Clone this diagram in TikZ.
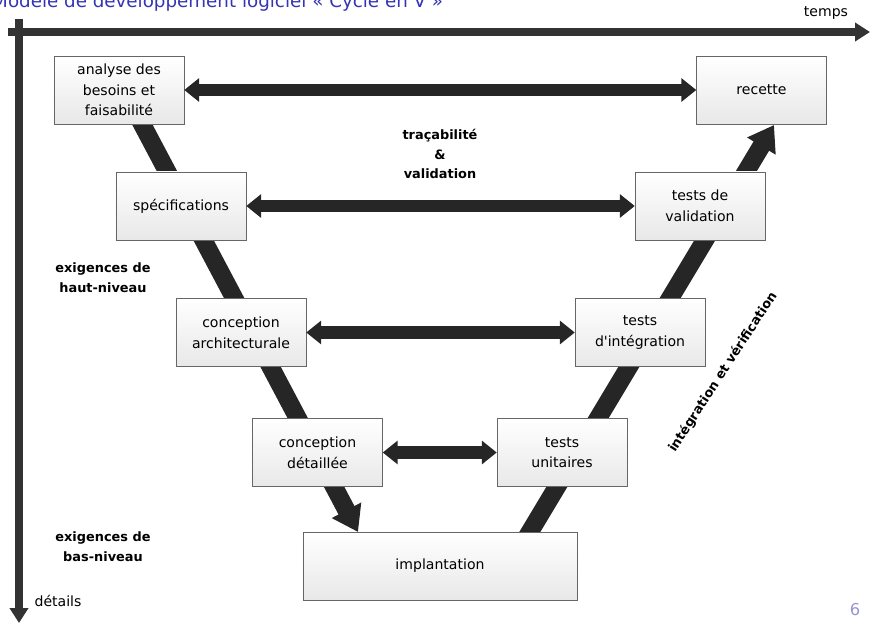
\documentclass[tikz,border=0pt]{standalone}
\usepackage{fontspec}
\setmainfont{DejaVu Sans}
\newfontfamily\boxfont{DejaVu Sans}
\usetikzlibrary{arrows.meta}

\definecolor{titleblue}{RGB}{52,52,180}
\definecolor{pageblue}{RGB}{150,150,210}

\begin{document}
\begin{tikzpicture}[x=0.03cm, y=-0.03cm,
  box/.style={rectangle, draw=black!60, top color=white, bottom color=black!9, minimum width=3.9cm, minimum height=2.04cm, align=center, inner sep=2pt, font=\boxfont\fontsize{12}{17.6}\selectfont},
  link/.style={draw=black!85, line width=10.4pt, {Triangle[length=12.8pt,width=19.6pt]}-{Triangle[length=12.8pt,width=19.6pt]}},
  vee/.style={draw=black!85, line width=15.4pt, -{Triangle[length=21pt,width=27pt]}},
  axis/.style={draw=black!80, line width=6.8pt, -{Triangle[length=12.8pt,width=15.4pt]}},
  note/.style={align=center, font=\fontsize{11}{17}\selectfont\bfseries}]
  \useasboundingbox (0,0) rectangle (871,624);
  \clip (0,0) rectangle (871,624);

  \node[anchor=base west, inner sep=0pt, text=titleblue, font=\fontsize{15.6}{18}\selectfont] (title) at (-8,8) {Modèle de développement logiciel « Cycle en V »};

  % axes
  \coordinate (t0) at (8,32);
  \coordinate (t1) at (870,32);
  \coordinate (d0) at (19,19);
  \coordinate (d1) at (19,623);
  \draw[axis] (t0) -- (t1);
  \draw[axis] (d0) -- (d1);
  \node[font=\fontsize{12}{14}\selectfont] (temps) at (826,13) {temps};
  \node[font=\fontsize{12}{14}\selectfont] (details) at (58,601) {détails};

  % the V, behind the boxes
  \coordinate (vl0) at (124,90);
  \coordinate (vl1) at (358,532);
  \coordinate (vr0) at (522,545);
  \coordinate (vr1) at (774,125);
  \draw[vee] (vl0) -- (vl1);
  \draw[vee] (vr0) -- (vr1);

  \node[box] (analyse) at (119,90)    {analyse des\\besoins et\\faisabilité};
  \node[box] (spec)    at (181,206)   {spécifications};
  \node[box] (archi)   at (241,332.5) {conception\\architecturale};
  \node[box] (detail)  at (317.5,452.5) {conception\\détaillée};
  \node[box, minimum width=8.22cm] (impl) at (440,566) {implantation};
  \node[box] (unit)    at (562,452.5) {tests\\unitaires};
  \node[box] (integ)   at (640,332.5) {tests\\d'intégration};
  \node[box] (valid)   at (700,206)   {tests de\\validation};
  \node[box] (recette) at (761.5,90)  {recette};

  \draw[link] (analyse) -- (recette);
  \draw[link] (spec) -- (valid);
  \draw[link] (archi) -- (integ);
  \draw[link] (detail) -- (unit);

  \node[note] (trace) at (440,154) {traçabilité\\\&\\validation};
  \node[note] (haut)  at (103,278) {exigences de\\haut-niveau};
  \node[note] (bas)   at (103,547) {exigences de\\bas-niveau};
  \node[note, rotate=57] (iv) at (723,372) {intégration et vérification};

  \node[text=pageblue, font=\fontsize{14}{16}\selectfont] (page) at (855,610) {6};
\end{tikzpicture}
\end{document}
